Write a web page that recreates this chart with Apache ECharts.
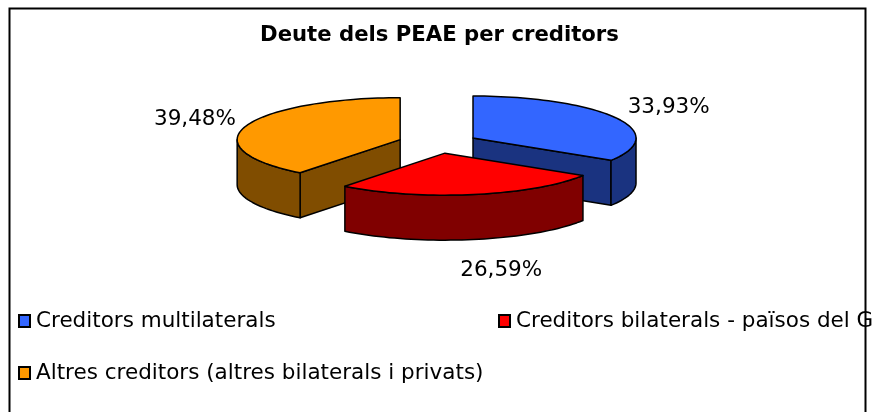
<!DOCTYPE html>
<html><head><meta charset="utf-8">
<style>html,body{margin:0;padding:0;background:#fff}#c{width:879px;height:412px}</style>
<script src="https://cdn.jsdelivr.net/npm/echarts@6/dist/echarts.min.js"></script>
</head><body><div id="c"></div>
<script>
const titleText = 'Deute dels PEAE per creditors';
const categories = ['Creditors multilaterals', 'Creditors bilaterals - països del G', 'Altres creditors (altres bilaterals i privats)'];
const values = [33.93, 26.59, 39.48];
const topColors = ['#3366FF', '#FF0000', '#FF9900'];
const wallColors = ['#1A3380', '#800000', '#804D00'];
const labelOffsets = [[53, -10], [28, 31], [-51, -7]];

const FONT = '"DejaVu Sans"';
const CX = 438, CY = 143, RX = 163, RY = 42, DEPTH = 45, EXPLODE = 40;
const total = values.reduce((a, b) => a + b, 0);
const pt = (c, a, dy) => [c[0] + RX * Math.sin(a), c[1] - RY * Math.cos(a) + (dy || 0)];
const rad = d => d * Math.PI / 180;
const fmt = v => v.toFixed(2).replace('.', ',') + '%';

function arc(c, a0, a1, dy) {
  const pts = [], n = Math.max(2, Math.ceil(Math.abs(a1 - a0) / rad(2)));
  for (let i = 0; i <= n; i++) pts.push(pt(c, a0 + (a1 - a0) * i / n, dy));
  return pts;
}
function sliceRender(idx) {
  return function () {
    let start = 0;
    for (let i = 0; i < idx; i++) start += values[i] / total * 2 * Math.PI;
    const end = start + values[idx] / total * 2 * Math.PI;
    const mid = (start + end) / 2;
    const c = [CX + EXPLODE * Math.sin(mid), CY - EXPLODE * RY / RX * Math.cos(mid)];
    const line = { stroke: '#000', lineWidth: 1.5, lineJoin: 'round' };
    const children = [];
    const wall = points => children.push({ type: 'polygon', shape: { points }, style: Object.assign({ fill: wallColors[idx] }, line) });
    // radial faces that look towards the viewer
    [start, end].forEach(a => {
      const p = pt(c, a);
      const facing = a === end ? Math.sin(a) > 0.001 : Math.sin(a) < -0.001;
      if (facing && Math.cos(a) < 0) wall([c, p, [p[0], p[1] + DEPTH], [c[0], c[1] + DEPTH]]);
    });
    // visible front part of the rim
    const f0 = Math.max(start, Math.PI / 2), f1 = Math.min(end, 3 * Math.PI / 2);
    if (f1 > f0) wall(arc(c, f0, f1, 0).concat(arc(c, f1, f0, DEPTH)));
    // top face
    children.push({ type: 'polygon', shape: { points: [c].concat(arc(c, start, end, 0)) }, style: Object.assign({ fill: topColors[idx] }, line) });
    // value label
    const r = pt(c, mid, idx === 1 ? DEPTH : 0);
    children.push({ type: 'text', style: { text: fmt(values[idx]), x: r[0] + labelOffsets[idx][0], y: r[1] + labelOffsets[idx][1], fill: '#000', fontFamily: FONT, fontSize: 21.5, textAlign: 'center', textVerticalAlign: 'middle' } });
    return { type: 'group', children };
  };
}
const order = [0, 2, 1];
const legendBase = {
  orient: 'vertical', icon: 'rect', itemWidth: 11, itemHeight: 12, itemGap: 30,
  padding: 0,
  itemStyle: { borderColor: '#000', borderWidth: 2 },
  textStyle: { fontFamily: FONT, fontSize: 21.5, lineHeight: 22, color: '#000', padding: [0, 0, 0, 1] },
  selectedMode: false
};
const chart = echarts.init(document.getElementById('c'));
chart.setOption({
  animation: false,
  backgroundColor: '#fff',
  title: { text: titleText, left: 'center', top: 20, textStyle: { fontFamily: FONT, fontSize: 21.2, fontWeight: 'bold', color: '#000' } },
  legend: [
    Object.assign({}, legendBase, { left: 18, top: 310, data: [categories[0], categories[2]] }),
    Object.assign({}, legendBase, { left: 498, top: 310, data: [categories[1]] })
  ],
  graphic: [{ type: 'rect', z: 100, shape: { x: 9.5, y: 8.5, width: 856, height: 420 }, style: { fill: 'none', stroke: '#000', lineWidth: 2 }, silent: true }],
  series: order.map(i => ({
    type: 'custom', name: categories[i], coordinateSystem: 'none', silent: true,
    itemStyle: { color: topColors[i] },
    data: [values[i]],
    renderItem: sliceRender(i)
  }))
});
</script></body></html>
